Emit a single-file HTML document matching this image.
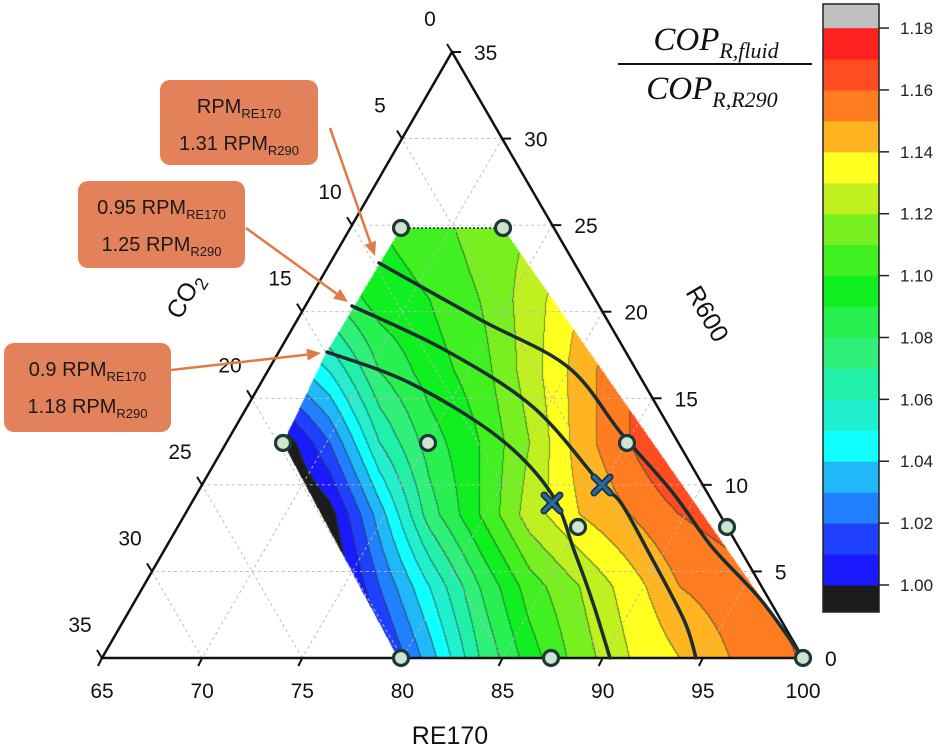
<!DOCTYPE html>
<html><head><meta charset="utf-8">
<style>
html,body{margin:0;padding:0;background:#fff;}
#wrap{position:relative;width:938px;height:749px;overflow:hidden;font-family:"Liberation Sans",Arial,sans-serif;}
canvas,svg{position:absolute;left:0;top:0;}
</style></head>
<body>
<div id="wrap">
<canvas id="field" width="938" height="749"></canvas>
<svg id="ov" width="938" height="749" xmlns="http://www.w3.org/2000/svg"></svg>
</div>
<script>
// ---- data ----
const rowLabelsY = [228,300,372,443,515,587,658];
const fieldRow228 = [1.09,1.095,1.10,1.105,1.115,1.12,1.13,1.14,1.15,1.16,1.17,1.18];
const fieldRow300 = [1.07,1.08,1.095,1.10,1.11,1.125,1.14,1.15,1.16,1.17,1.18,1.18];
const fieldRow372 = [1.03,1.05,1.08,1.095,1.105,1.125,1.145,1.16,1.17,1.175,1.18,1.18];
const fieldRow443 = [0.99,1.02,1.06,1.085,1.10,1.12,1.145,1.16,1.175,1.18,1.18,1.18];
const fieldRow515 = [0.98,0.995,1.035,1.075,1.10,1.125,1.14,1.15,1.16,1.165,1.17,1.17];
const fieldRow587 = [0.97,0.985,1.02,1.05,1.08,1.105,1.12,1.135,1.15,1.155,1.165,1.17];
const fieldRow658 = [0.96,0.975,1.005,1.035,1.07,1.095,1.115,1.13,1.14,1.15,1.155,1.17];
const cbLevels = [1.00,1.01,1.02,1.03,1.04,1.05,1.06,1.07,1.08,1.09,1.10,1.11,1.12,1.13,1.14,1.15,1.16,1.17];
const cbColors = ["#1a1aff","#2040ff","#2080ff","#20b8f8","#10ffff","#20f0d0","#20f0a8","#30f07a","#28f050","#10f020","#40f020","#78f020","#c0f020","#ffff20","#ffb420","#ff7c20","#ff4c20","#ff2020"];
const cbLow = "#1c1c1c", cbHigh = "#c0c0c0";
const cbTicks = ["1.00","1.02","1.04","1.06","1.08","1.10","1.12","1.14","1.16","1.18"];
const re170Ticks = ["65","70","75","80","85","90","95","100"];
const r600Ticks = ["0","5","10","15","20","25","30","35"];
const co2Ticks = ["0","5","10","15","20","25","30","35"];
</script>
<script>
const NS="http://www.w3.org/2000/svg";
const svg=document.getElementById('ov');
const BR=[803,658],TOP=[452,52],BL=[102,658];
function P(fa,fb,fc){return [fa*BR[0]+fb*TOP[0]+fc*BL[0], fa*BR[1]+fb*TOP[1]+fc*BL[1]];}
function mk(tag,attrs,parent){const e=document.createElementNS(NS,tag);for(const k in attrs)e.setAttribute(k,attrs[k]);(parent||svg).appendChild(e);return e;}
function valueToColor(v){
  if(v<cbLevels[0])return cbLow;
  if(v>=cbLevels[cbLevels.length-1]+0.01)return cbHigh;
  let i=Math.floor((v-cbLevels[0])/0.01+1e-9);return cbColors[Math.min(i,cbColors.length-1)];
}
function binOf(v){if(v<1.0)return -1;if(v>=1.18)return 99;return Math.floor((v-1.0)/0.01+1e-9);}
// ---- field canvas ----
const rows=[fieldRow228,fieldRow300,fieldRow372,fieldRow443,fieldRow515,fieldRow587,fieldRow658];
const colX=fieldRow228.map((_,i)=>280+50*i);
const poly=[[401,228],[503,228],[803,658],[398,658],[283,443],[325,355]];
function inside(x,y){let c=false;for(let i=0,j=poly.length-1;i<poly.length;j=i++){const [xi,yi]=poly[i],[xj,yj]=poly[j];if(((yi>y)!=(yj>y))&&(x<(xj-xi)*(y-yi)/(yj-yi)+xi))c=!c;}return c;}
function interp(x,y){
  let r=0;while(r<rowLabelsY.length-2&&y>rowLabelsY[r+1])r++;
  let ty=Math.max(0,Math.min(1,(y-rowLabelsY[r])/(rowLabelsY[r+1]-rowLabelsY[r])));
  let c=0;while(c<colX.length-2&&x>colX[c+1])c++;
  let tx=Math.max(0,Math.min(1,(x-colX[c])/(colX[c+1]-colX[c])));
  const a=rows[r][c]*(1-tx)+rows[r][c+1]*tx, b=rows[r+1][c]*(1-tx)+rows[r+1][c+1]*tx;
  return a*(1-ty)+b*ty;
}
function hex(h){return [parseInt(h.substr(1,2),16),parseInt(h.substr(3,2),16),parseInt(h.substr(5,2),16)];}
(function(){
  const cv=document.getElementById('field'),ctx=cv.getContext('2d');
  const x0=275,x1=810,y0=225,y1=662,W=x1-x0,H=y1-y0;
  const bins=new Int16Array(W*H),vals=new Float32Array(W*H),ins=new Uint8Array(W*H);
  for(let j=0;j<H;j++)for(let i=0;i<W;i++){const x=x0+i+0.5,y=y0+j+0.5;const k=j*W+i;ins[k]=inside(x,y)?1:0;if(ins[k]){const v=interp(x,y);vals[k]=v;bins[k]=binOf(v);}}
  const img=ctx.createImageData(W,H);
  for(let j=0;j<H;j++)for(let i=0;i<W;i++){const k=j*W+i;if(!ins[k])continue;let c=hex(valueToColor(vals[k]));
    const edge=(i<W-1&&ins[k+1]&&bins[k+1]!=bins[k])||(j<H-1&&ins[k+W]&&bins[k+W]!=bins[k]);
    if(edge){c=[c[0]*0.45+30*0.55,c[1]*0.45+60*0.55,c[2]*0.45+50*0.55];}
    img.data[k*4]=c[0];img.data[k*4+1]=c[1];img.data[k*4+2]=c[2];img.data[k*4+3]=255;}
  ctx.putImageData(img,x0,y0);
})();
// ---- grid ----
const gridG=mk('g',{});


for(let k=1;k<7;k++){const t=k/7;
  [[P(1-t,t,0),P(0,t,1-t)],[P(t,1-t,0),P(t,0,1-t)],[P(1-t,0,t),P(0,1-t,t)]].forEach(s=>{
    mk('line',{x1:s[0][0],y1:s[0][1],x2:s[1][0],y2:s[1][1],stroke:'#b8b8b8','stroke-width':0.9,'stroke-dasharray':'3,3'},gridG);});}
mk('line',{x1:401,y1:228,x2:503,y2:228,stroke:'#222','stroke-width':1.5,'stroke-dasharray':'2,2'});
const tri=mk('polygon',{points:[BR,TOP,BL].map(p=>p.join(',')).join(' '),fill:'none',stroke:'#111','stroke-width':2.5});


re170Ticks.forEach((lab,i)=>{const p=P(i/7,0,1-i/7);
  mk('line',{x1:p[0],y1:p[1],x2:p[0]-4,y2:p[1]+8,stroke:'#111','stroke-width':2});
  const t=mk('text',{x:p[0],y:p[1]+40,'text-anchor':'middle','font-size':21,fill:'#111'});t.textContent=lab;
  
  });
r600Ticks.forEach((lab,i)=>{const p=P(1-i/7,i/7,0);
  mk('line',{x1:p[0],y1:p[1],x2:p[0]+9,y2:p[1],stroke:'#111','stroke-width':2});
  const t=mk('text',{x:p[0]+22,y:p[1]+8,'text-anchor':'start','font-size':21,fill:'#111'});t.textContent=lab;
  
  });
co2Ticks.forEach((lab,i)=>{const p=P(0,1-i/7,i/7);
  mk('line',{x1:p[0],y1:p[1],x2:p[0]-5,y2:p[1]-8,stroke:'#111','stroke-width':2});
  const t=mk('text',{x:p[0]-22,y:p[1]-26,'text-anchor':'middle','font-size':21,fill:'#111'});t.textContent=lab;
  
  });
let at=mk('text',{x:450,y:744,'text-anchor':'middle','font-size':25,fill:'#111'});at.textContent='RE170';


at=mk('text',{x:0,y:0,'text-anchor':'middle','font-size':25,fill:'#111',transform:'translate(700,318) rotate(60)'});at.textContent='R600';


at=mk('text',{x:0,y:0,'text-anchor':'middle','font-size':25,fill:'#111',transform:'translate(192,300) rotate(-60)'});
at.innerHTML='CO<tspan font-size="18" dy="6">2</tspan>';


function smooth(pts){let d='M'+pts[0].join(',');for(let i=0;i<pts.length-1;i++){const p0=pts[Math.max(0,i-1)],p1=pts[i],p2=pts[i+1],p3=pts[Math.min(pts.length-1,i+2)];
  const c1=[p1[0]+(p2[0]-p0[0])/6,p1[1]+(p2[1]-p0[1])/6],c2=[p2[0]-(p3[0]-p1[0])/6,p2[1]-(p3[1]-p1[1])/6];
  d+=' C'+c1.join(',')+' '+c2.join(',')+' '+p2.join(',');}return d;}
const curves=[
 [[379,263],[481,320],[568,367],[621,433],[673,493],[712,547],[761,600],[803,658]],
 [[352,306],[445,350],[533,407],[600,483],[621,503],[649,553],[684,620],[696,658]],
 [[327,352],[410,383],[498,437],[551,493],[575,553],[593,603],[610,658]]];
curves.forEach((c,i)=>{const p=mk('path',{d:smooth(c),fill:'none',stroke:'#1b2d2d','stroke-width':3.5,'stroke-linecap':'round'});
  
  });
[[401,228],[503,228],[283,443],[428,443],[627,443],[578,527],[727,527],[401,658],[551,658],[803,658]].forEach(p=>{
  const c=mk('circle',{cx:p[0],cy:p[1],r:7.5,fill:'#cfe4cc',stroke:'#1d3838','stroke-width':3.2});
  
  });
[[552,503],[602,485]].forEach(p=>{const g=mk('g',{});
  
  
  const d=`M${p[0]-8},${p[1]-8}L${p[0]+8},${p[1]+8}M${p[0]+8},${p[1]-8}L${p[0]-8},${p[1]+8}`;
  mk('path',{d:d,stroke:'#13324a','stroke-width':7,'stroke-linecap':'round'},g);
  mk('path',{d:d,stroke:'#2a6a9a','stroke-width':3.5,'stroke-linecap':'round'},g);});
const anns=[
 {x:160,y:80,w:158,h:85,l1:['RPM','RE170'],l2:['1.31 RPM','R290'],a:[[330,128],[375,256]]},
 {x:78,y:181,w:167,h:87,l1:['0.95 RPM','RE170'],l2:['1.25 RPM','R290'],a:[[246,228],[348,302]]},
 {x:4,y:343,w:167,h:89,l1:['0.9 RPM','RE170'],l2:['1.18 RPM','R290'],a:[[171,370],[321,353]]}];
anns.forEach((a,i)=>{const g=mk('g',{});
  
  
  mk('rect',{x:a.x,y:a.y,width:a.w,height:a.h,rx:10,fill:'#e3825a'},g);
  const cx=a.x+a.w/2;
  let t=mk('text',{x:cx,y:a.y+33,'text-anchor':'middle','font-size':20,fill:'#1a1a1a'},g);
  t.innerHTML=a.l1[0]+'<tspan font-size="13" dy="5">'+a.l1[1]+'</tspan>';
  t=mk('text',{x:cx,y:a.y+70,'text-anchor':'middle','font-size':20,fill:'#1a1a1a'},g);
  t.innerHTML=a.l2[0]+'<tspan font-size="13" dy="5">'+a.l2[1]+'</tspan>';
  const [s,e]=a.a;const ang=Math.atan2(e[1]-s[1],e[0]-s[0]);
  const b=[e[0]-14*Math.cos(ang),e[1]-14*Math.sin(ang)];
  mk('line',{x1:s[0],y1:s[1],x2:b[0],y2:b[1],stroke:'#e07a45','stroke-width':2.5},g);
  const px=-Math.sin(ang)*6,py=Math.cos(ang)*6;
  mk('polygon',{points:`${e[0]},${e[1]} ${b[0]+px},${b[1]+py} ${b[0]-px},${b[1]-py}`,fill:'#e07a45'},g);});
const cbG=mk('g',{});


const cbX=823,cbW=56,yOf=v=>585-(v-1.0)*3094;
mk('rect',{x:cbX,y:yOf(1.0),width:cbW,height:612-yOf(1.0),fill:cbLow},cbG);
cbLevels.forEach((lv,i)=>{mk('rect',{x:cbX,y:yOf(lv+0.01),width:cbW,height:yOf(lv)-yOf(lv+0.01)+0.5,fill:cbColors[i]},cbG);});
mk('rect',{x:cbX,y:4,width:cbW,height:yOf(1.18)-4,fill:cbHigh},cbG);
mk('rect',{x:cbX,y:4,width:cbW,height:608,fill:'none',stroke:'#222','stroke-width':1.5},cbG);
cbTicks.forEach(l=>{const y=yOf(parseFloat(l));
  mk('line',{x1:cbX+cbW,y1:y,x2:cbX+cbW+10,y2:y,stroke:'#222','stroke-width':1.5},cbG);
  const t=mk('text',{x:900,y:y+6,'font-size':17,fill:'#222'},cbG);t.textContent=l;
  
  });
const fg=mk('g',{'font-family':'"Liberation Serif",serif','font-style':'italic',fill:'#111'});


let ft=mk('text',{x:716,y:50,'text-anchor':'middle','font-size':33},fg);
ft.innerHTML='COP<tspan font-size="22" dy="8">R,fluid</tspan>';
mk('line',{x1:618,y1:64,x2:812,y2:64,stroke:'#111','stroke-width':2},fg);
ft=mk('text',{x:712,y:99,'text-anchor':'middle','font-size':33},fg);
ft.innerHTML='COP<tspan font-size="22" dy="8">R,R290</tspan>';
</script>
</body></html>
